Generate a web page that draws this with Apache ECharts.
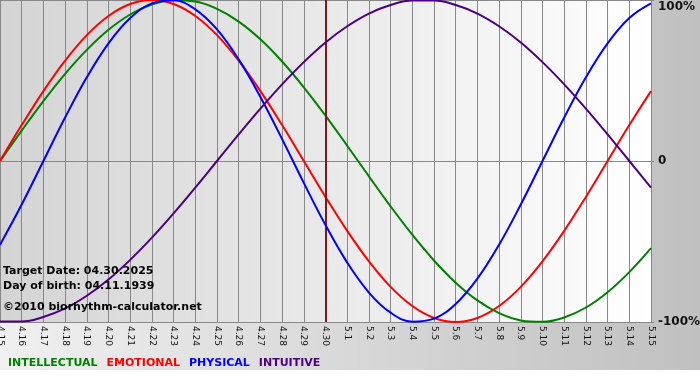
<!DOCTYPE html>
<html>
<head>
<meta charset="utf-8">
<script src="https://cdn.jsdelivr.net/npm/echarts@6/dist/echarts.min.js"></script>
<style>html,body{margin:0;padding:0;background:#fff}#c{width:700px;height:380px}</style>
</head>
<body>
<div id="c"></div>
<script>
var categories = ['4.15','4.16','4.17','4.18','4.19','4.20','4.21','4.22','4.23','4.24','4.25','4.26','4.27','4.28','4.29','4.30',
  '5.1','5.2','5.3','5.4','5.5','5.6','5.7','5.8','5.9','5.10','5.11','5.12','5.13','5.14','5.15'];
var intellectual = [0,18.9,37.2,54.1,69.0,81.5,91.0,97.2,99.9,99.0,94.5,86.6,75.6,61.8,45.8,28.2,9.5,-9.5,-28.2,-45.8,-61.8,-75.6,-86.6,-94.5,-99.0,-99.9,-97.2,-91.0,-81.5,-69.0,-54.1];
var emotional = [0,22.3,43.4,62.3,78.2,90.1,97.5,100,97.5,90.1,78.2,62.3,43.4,22.3,0,-22.3,-43.4,-62.3,-78.2,-90.1,-97.5,-100,-97.5,-90.1,-78.2,-62.3,-43.4,-22.3,0,22.3,43.4];
var physical = [-52.0,-27.0,0,27.0,52.0,73.1,88.8,97.9,99.8,94.2,81.7,63.1,39.8,13.6,-13.6,-39.8,-63.1,-81.7,-94.2,-99.8,-97.9,-88.8,-73.1,-52.0,-27.0,0,27.0,52.0,73.1,88.8,97.9];
var intuitive = [-99.7,-99.7,-96.9,-91.6,-83.7,-73.6,-61.4,-47.6,-32.5,-16.5,0,16.5,32.5,47.6,61.4,73.6,83.7,91.6,96.9,99.7,99.7,96.9,91.6,83.7,73.6,61.4,47.6,32.5,16.5,0,-16.5];
var yTicks = [-100, 0, 100];
var targetDay = '4.30';
var infoLines = ['Target Date: 04.30.2025', 'Day of birth: 04.11.1939', '\u00a92010 biorhythm-calculator.net'];

var names = ['INTELLECTUAL','EMOTIONAL','PHYSICAL','INTUITIVE'];
var colors = ['#008000','#ff0000','#0000ff','#4b0082'];
var datas = [intellectual, emotional, physical, intuitive];

var chart = echarts.init(document.getElementById('c'), null, {renderer:'canvas'});
var series = names.map(function(n, i){
  var s = {
    name: n, type: 'line', data: datas[i], smooth: 0.4, symbol: 'none',
    lineStyle: {color: colors[i], width: 2}, itemStyle: {color: colors[i]}, z: 3 + i
  };
  if (i === 0) {
    s.markLine = {
      silent: true, symbol: 'none', label: {show: false},
      lineStyle: {color: '#801818', width: 2, type: 'solid'},
      data: [{xAxis: targetDay}]
    };
  }
  return s;
});

chart.setOption({
  animation: false,
  textStyle: {fontFamily: 'DejaVu Sans'},
  graphic: [
    {type: 'rect', z: -10, silent: true, shape: {x: 0, y: 0, width: 700, height: 370},
      style: {fill: new echarts.graphic.LinearGradient(0, 0, 1, 0, [{offset: 0, color: '#f0f0f0'}, {offset: 1, color: '#c0c0c0'}])}},
    {type: 'text', left: 3, top: 266, z: 100, style: {text: infoLines[0], font: 'bold 11px "DejaVu Sans"', fill: '#000'}},
    {type: 'text', left: 3, top: 281, z: 100, style: {text: infoLines[1], font: 'bold 11px "DejaVu Sans"', fill: '#000'}},
    {type: 'text', left: 3, top: 302, z: 100, style: {text: infoLines[2], font: 'bold 11px "DejaVu Sans"', fill: '#000'}}
  ],
  grid: {
    left: 0, right: 49, top: 0, bottom: 58, show: true, borderWidth: 0,
    containLabel: false, outerBoundsMode: 'none',
    backgroundColor: new echarts.graphic.LinearGradient(0, 0, 1, 0, [{offset: 0, color: '#d4d4d4'}, {offset: 1, color: '#ffffff'}])
  },
  legend: {
    left: -2, top: 353, itemWidth: 0, itemHeight: 0, itemGap: 4, icon: 'rect',
    selectedMode: false,
    textStyle: {fontFamily: 'DejaVu Sans', fontWeight: 'bold', fontSize: 11, padding: [0,0,0,0]},
    data: names.map(function(n, i){ return {name: n, textStyle: {color: colors[i]}}; })
  },
  xAxis: {
    type: 'category', data: categories, boundaryGap: false,
    axisLine: {show: true, lineStyle: {color: '#888888', width: 1}},
    axisTick: {show: true, alignWithLabel: true, length: 4, lineStyle: {color: '#888888'}},
    splitLine: {show: true, lineStyle: {color: '#888888', width: 1}},
    axisLabel: {interval: 0, rotate: -90, margin: 4, fontSize: 9, color: '#111', fontFamily: 'DejaVu Sans'}
  },
  yAxis: {
    type: 'value', position: 'right', min: -100, max: 100, interval: 100,
    axisLine: {show: false},
    axisTick: {show: true, length: 3, lineStyle: {color: '#888888'}},
    splitLine: {show: true, lineStyle: {color: '#888888', width: 1}},
    axisLabel: {
      margin: 7, color: '#111', fontWeight: 'bold', fontSize: 12, fontFamily: 'DejaVu Sans',
      formatter: function(v){
        if (v === 100) return '{t|100%}';
        if (v === 0) return '0';
        if (v === -100) return '-100%';
        return '';
      },
      rich: {t: {fontWeight: 'bold', fontSize: 12, fontFamily: 'DejaVu Sans', color: '#111', padding: [14, 0, 0, 0]}}
    }
  },
  series: series
});
</script>
</body>
</html>
